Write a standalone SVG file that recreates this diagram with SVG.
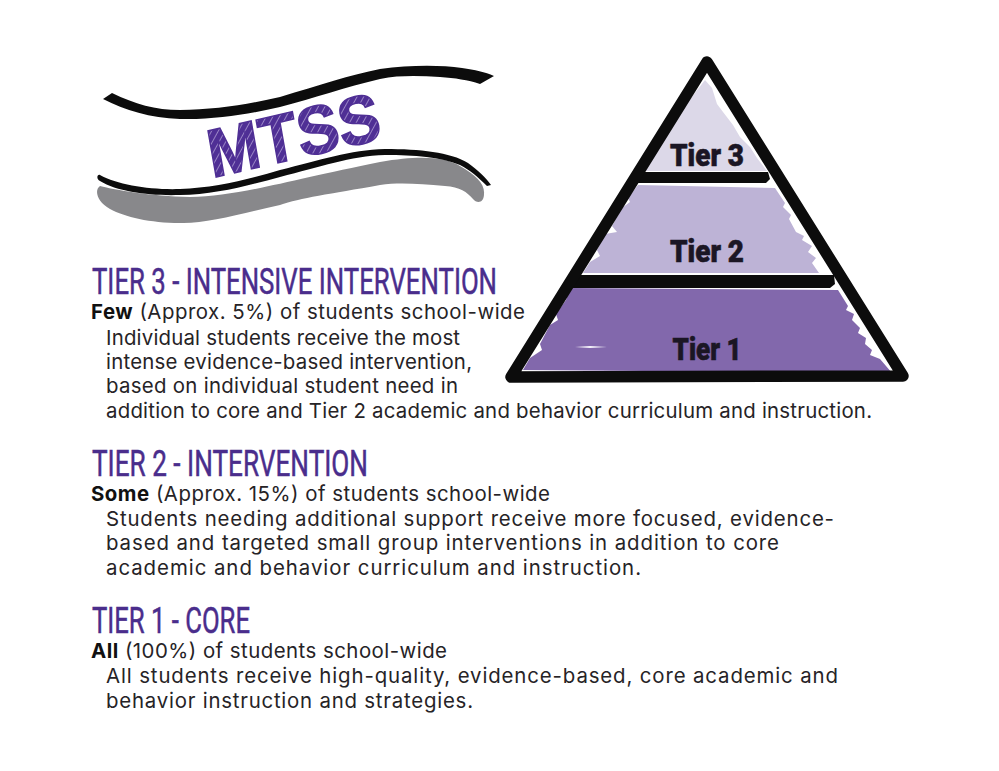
<svg xmlns="http://www.w3.org/2000/svg" width="999" height="771" viewBox="0 0 999 771">
<style>
.b{font-family:"Inter","Liberation Sans",sans-serif;font-size:20.4px;fill:#262326}
.b tspan{font-weight:700;fill:#111}
.h{font-family:"Roboto","Liberation Sans",sans-serif;font-size:36px;font-weight:400;fill:#4a2d8c;stroke:#4a2d8c;stroke-width:.5}
.t{font-family:"Roboto","Liberation Sans",sans-serif;font-size:31px;font-weight:900;fill:#1b1624;stroke:#1b1624;stroke-width:.6;text-anchor:middle}
</style>
<defs>
<pattern id="hatch" width="6" height="6" patternUnits="userSpaceOnUse" patternTransform="rotate(-50)">
<rect width="6" height="6" fill="#4f2f95"/><rect y="0" width="6" height="1" fill="#9a85c6"/>
</pattern>
</defs>
<rect width="999" height="771" fill="#fff"/>
<g id="banner">
<path d="M100 186C115 190 150 196 190 197C240 196 290 180 380 162C420 155 445 157 460 166C476 175 485 184 484 194C484 203 477 204 473 199C467 192 460 187 445 186C420 184 400 182 380 185C330 194 300 198 280 205C240 214 205 224 180 223C150 223 125 217 110 209C97 202 94 190 100 186Z" fill="#88888b"/>
<path d="M103 99L112 93C135 104 155 110 180 110C215 110 250 104 280 97C320 85 350 75 380 69C410 65 440 65 462 68C475 70 485 72 494 76L480 84C468 80 455 78 440 77C420 76 400 75 380 79C345 87 315 98 280 107C250 114 215 120 180 119C150 118 125 110 103 99Z" fill="#0c0c0c"/>
<path d="M100 175C118 185 150 190 180 189C215 188 250 179 280 170C320 160 350 150 385 149C420 149 450 152 468 163C478 170 486 178 491 185L487 186C478 177 470 170 460 165C440 157 415 155 385 155C350 156 320 167 280 177C250 185 215 195 180 195C150 196 118 192 100 181C96 179 97 174 100 175Z" fill="#0c0c0c"/>
<text id="mtss" transform="translate(212 178) rotate(-13) skewX(-3)" font-family="'Liberation Sans',sans-serif" font-weight="700" font-size="68" fill="url(#hatch)" stroke="#4f2f95" stroke-width="1.5" textLength="176" lengthAdjust="spacingAndGlyphs">MTSS</text>
</g>
<g id="pyramid">
<g id="tier-3">
<path d="M705 80L712 88L717 104L723 112L733 125L740 137L750 147L757 158L767 171L643 171L660 145L680 112Z" fill="#dcd8e8"/>
<text class="t" x="707" y="166" textLength="74" lengthAdjust="spacingAndGlyphs">Tier 3</text>
</g>
<g id="tier-2">
<path d="M638 185L775 188L785 203L783 207L791 215L789 219L796 232L804 236L802 240L812 246L808 252L816 258L812 263L819 273L583 273L590 262L600 256L597 250L605 234L617 232L612 226L622 208L630 202L628 198Z" fill="#bdb3d6"/>
<text class="t" x="707" y="262" textLength="74" lengthAdjust="spacingAndGlyphs">Tier 2</text>
</g>
<g id="tier-1">
<path d="M570 288L838 290L848 306L846 310L854 314L852 320L860 328L858 333L866 338L865 344L872 350L870 355L880 359L892 373L523 370L530 358L542 350L540 344L550 325L558 320L556 314L566 300Z" fill="#8268ac"/>
<path d="M575 347L590 346L607 347L590 348Z" fill="#f5f3fa"/>
<text class="t" x="707" y="360" textLength="69" lengthAdjust="spacingAndGlyphs">Tier 1</text>
</g>
<path d="M637 172H768L770 179L766 183H632Z" fill="#0c0c0c"/>
<path d="M570 275H834L835 284L830 288H562Z" fill="#0c0c0c"/>
<path d="M707 62L511 377L903 376Z" fill="none" stroke="#0c0c0c" stroke-width="11.5" stroke-linejoin="round"/>
</g>
<g id="tier-3-text">
<text class="h" x="92" y="294" textLength="405" lengthAdjust="spacingAndGlyphs">TIER 3 - INTENSIVE INTERVENTION</text>
<text class="b" x="91" y="319" textLength="434"><tspan>Few</tspan> (Approx. 5%) of students school-wide</text>
<text class="b" x="106" y="345" textLength="354">Individual students receive the most</text>
<text class="b" x="106" y="369" textLength="366">intense evidence-based intervention,</text>
<text class="b" x="106" y="393" textLength="352">based on individual student need in</text>
<text class="b" x="106" y="418" textLength="766">addition to core and Tier 2 academic and behavior curriculum and instruction.</text>
</g>
<g id="tier-2-text">
<text class="h" x="92" y="476" textLength="276" lengthAdjust="spacingAndGlyphs">TIER 2 - INTERVENTION</text>
<text class="b" x="91" y="501" textLength="459"><tspan>Some</tspan> (Approx. 15%) of students school-wide</text>
<text class="b" x="106" y="526" textLength="728">Students needing additional support receive more focused, evidence-</text>
<text class="b" x="106" y="550" textLength="673">based and targeted small group interventions in addition to core</text>
<text class="b" x="106" y="575" textLength="535">academic and behavior curriculum and instruction.</text>
</g>
<g id="tier-1-text">
<text class="h" x="92" y="633" textLength="158" lengthAdjust="spacingAndGlyphs">TIER 1 - CORE</text>
<text class="b" x="91" y="658" textLength="356"><tspan>All</tspan> (100%) of students school-wide</text>
<text class="b" x="106" y="683" textLength="732">All students receive high-quality, evidence-based, core academic and</text>
<text class="b" x="106" y="708" textLength="367">behavior instruction and strategies.</text>
</g>
</svg>
